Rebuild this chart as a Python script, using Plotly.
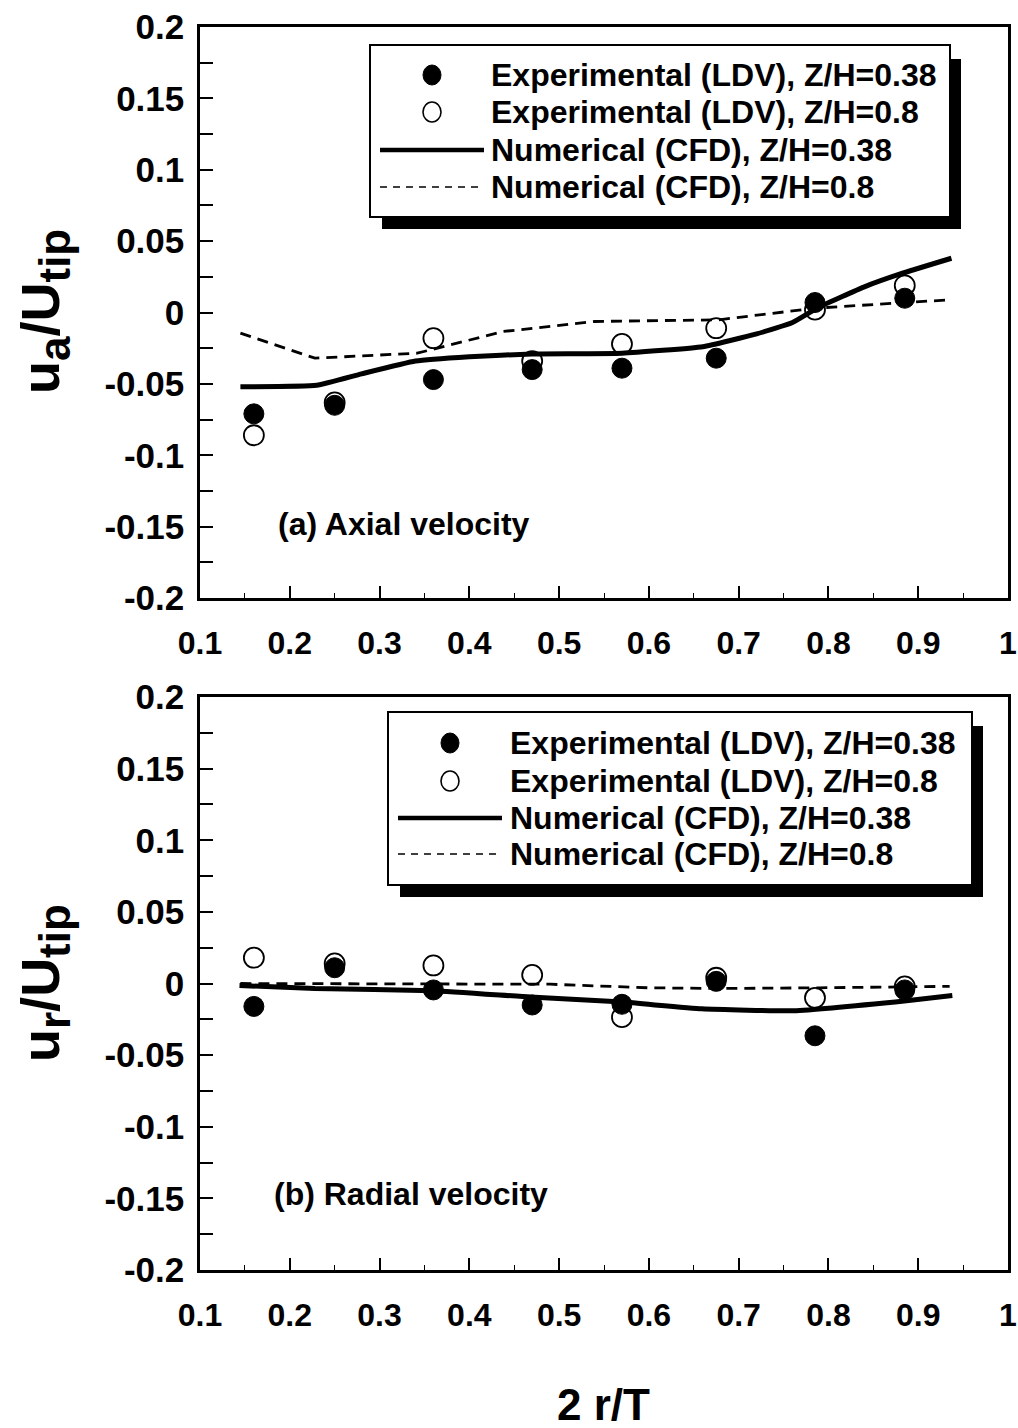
import plotly.graph_objects as go
from plotly.subplots import make_subplots

# ---------------- data ----------------
x_exp = [0.16, 0.25, 0.36, 0.47, 0.57, 0.675, 0.785, 0.885]

# (a) axial velocity
ua_exp_038 = [-0.071, -0.065, -0.047, -0.040, -0.039, -0.032, 0.007, 0.010]
ua_exp_08 = [-0.086, -0.063, -0.018, -0.034, -0.022, -0.011, 0.002, 0.019]
x_cfd_a038 = [0.145, 0.23, 0.28, 0.34, 0.40, 0.47, 0.57, 0.66, 0.72, 0.76, 0.79, 0.84, 0.88, 0.937]
ua_cfd_038 = [-0.052, -0.051, -0.043, -0.034, -0.031, -0.029, -0.0285, -0.024, -0.015, -0.007, 0.004, 0.018, 0.027, 0.038]
x_cfd_a08 = [0.145, 0.228, 0.342, 0.378, 0.438, 0.540, 0.678, 0.785, 0.935]
ua_cfd_08 = [-0.0145, -0.032, -0.0285, -0.0226, -0.0133, -0.0063, -0.0051, 0.003, 0.0089]

# (b) radial velocity
ur_exp_038 = [-0.016, 0.011, -0.0045, -0.015, -0.0145, 0.0015, -0.0365, -0.0045]
ur_exp_08 = [0.018, 0.014, 0.0126, 0.006, -0.0235, 0.004, -0.010, -0.002]
x_cfd_r038 = [0.144, 0.228, 0.36, 0.468, 0.571, 0.659, 0.761, 0.887, 0.938]
ur_cfd_038 = [-0.0014, -0.0035, -0.005, -0.0095, -0.013, -0.0177, -0.019, -0.012, -0.0084]
x_cfd_r08 = [0.145, 0.36, 0.49, 0.60, 0.68, 0.79, 0.935]
ur_cfd_08 = [0.0, 0.0, -0.0005, -0.003, -0.0035, -0.003, -0.002]

y_tickvals = [0.2, 0.15, 0.1, 0.05, 0, -0.05, -0.1, -0.15, -0.2]
y_ticktext = ["0.2", "0.15", "0.1", "0.05", "0", "-0.05", "-0.1", "-0.15", "-0.2"]
x_tickvals = [0.1, 0.2, 0.3, 0.4, 0.5, 0.6, 0.7, 0.8, 0.9, 1.0]
x_ticktext = ["0.1", "0.2", "0.3", "0.4", "0.5", "0.6", "0.7", "0.8", "0.9", "1"]

legend_labels = ["Experimental (LDV), Z/H=0.38", "Experimental (LDV), Z/H=0.8",
                 "Numerical (CFD), Z/H=0.38", "Numerical (CFD), Z/H=0.8"]

# ---------------- layout geometry ----------------
W, H = 1018, 1428
ML, MR = 200, 10
PW = W - ML - MR
FONT = "Liberation Sans, Arial, sans-serif"


def px(xp):
    return (xp - ML) / PW


def py(yp):
    return (H - yp) / H


fig = make_subplots(rows=2, cols=1, vertical_spacing=0.07)


def add_panel(row, xs, exp038, exp08, xc38, c38, xc08, c08):
    fig.add_trace(go.Scatter(x=xs, y=exp08, mode="markers",
                             marker=dict(symbol="circle", size=20, color="white",
                                         line=dict(color="black", width=1.8)),
                             showlegend=False), row=row, col=1)
    fig.add_trace(go.Scatter(x=xs, y=exp038, mode="markers",
                             marker=dict(symbol="circle", size=20, color="black",
                                         line=dict(color="black", width=1)),
                             showlegend=False), row=row, col=1)
    fig.add_trace(go.Scatter(x=xc08, y=c08, mode="lines",
                             line=dict(color="black", width=2.8, dash="11px,7px"),
                             showlegend=False), row=row, col=1)
    fig.add_trace(go.Scatter(x=xc38, y=c38, mode="lines",
                             line=dict(color="black", width=5, shape="spline", smoothing=0.4),
                             showlegend=False), row=row, col=1)


add_panel(1, x_exp, ua_exp_038, ua_exp_08, x_cfd_a038, ua_cfd_038, x_cfd_a08, ua_cfd_08)
add_panel(2, x_exp, ur_exp_038, ur_exp_08, x_cfd_r038, ur_cfd_038, x_cfd_r08, ur_cfd_08)

axis_common = dict(showline=True, linecolor="black", linewidth=2.5, mirror=True,
                   showgrid=False, zeroline=False, automargin=False)

for r, dom in ((1, [1 - 598 / H, 1 - 27 / H]), (2, [1 - 1270 / H, 1 - 697 / H])):
    fig.update_xaxes(row=r, col=1, range=[0.1, 1.0], tickvals=x_tickvals, ticktext=x_ticktext,
                     ticks="inside", ticklen=12, tickwidth=1.5, tickcolor="black",
                     minor=dict(tickvals=[0.15, 0.25, 0.35, 0.45, 0.55, 0.65, 0.75, 0.85, 0.95],
                                ticks="inside", ticklen=5, tickwidth=1.2, tickcolor="black"),
                     tickfont=dict(family=FONT, size=32, color="black", weight="bold"),
                     ticklabelstandoff=15, **axis_common)
    fig.update_yaxes(row=r, col=1, range=[-0.2, 0.2], domain=dom,
                     tickvals=y_tickvals, ticktext=y_ticktext,
                     ticks="inside", ticklen=13, tickwidth=1.5, tickcolor="black",
                     minor=dict(dtick=0.025, ticks="inside", ticklen=13, tickwidth=1.5,
                                tickcolor="black"),
                     tickfont=dict(family=FONT, size=35, color="black", weight="bold"),
                     ticklabelstandoff=6, **axis_common)

shapes = []
annotations = []


def add_legend(left, top, right, bottom, rows_y, marker_x, line_x0, line_x1, text_x):
    # drop shadow
    shapes.append(dict(type="rect", xref="paper", yref="paper",
                       x0=px(left + 12), x1=px(right + 11), y0=py(bottom + 12), y1=py(top + 14),
                       fillcolor="black", line=dict(width=0), layer="above"))
    shapes.append(dict(type="rect", xref="paper", yref="paper",
                       x0=px(left), x1=px(right), y0=py(bottom), y1=py(top),
                       fillcolor="white", line=dict(color="black", width=2), layer="above"))
    r = 9
    shapes.append(dict(type="circle", xref="paper", yref="paper",
                       x0=px(marker_x - r), x1=px(marker_x + r),
                       y0=py(rows_y[0] + r + 1), y1=py(rows_y[0] - r - 1),
                       fillcolor="black", line=dict(color="black", width=1), layer="above"))
    shapes.append(dict(type="circle", xref="paper", yref="paper",
                       x0=px(marker_x - r), x1=px(marker_x + r),
                       y0=py(rows_y[1] + r + 1), y1=py(rows_y[1] - r - 1),
                       fillcolor="white", line=dict(color="black", width=1.6), layer="above"))
    shapes.append(dict(type="line", xref="paper", yref="paper",
                       x0=px(line_x0), x1=px(line_x1), y0=py(rows_y[2]), y1=py(rows_y[2]),
                       line=dict(color="black", width=4.5), layer="above"))
    shapes.append(dict(type="line", xref="paper", yref="paper",
                       x0=px(line_x0), x1=px(line_x1), y0=py(rows_y[3]), y1=py(rows_y[3]),
                       line=dict(color="black", width=1.6, dash="7px,6px"), layer="above"))
    for lab, yy in zip(legend_labels, rows_y):
        annotations.append(dict(xref="paper", yref="paper", x=px(text_x), y=py(yy),
                                xanchor="left", yanchor="middle", showarrow=False, text=lab,
                                font=dict(family=FONT, size=32, color="black", weight="bold")))


add_legend(370, 45, 950, 217, [75, 112, 150, 187], 432, 380, 484, 489)
add_legend(388, 712, 972, 885, [743, 781, 818, 854], 450, 398, 502, 508)

# panel labels
annotations.append(dict(xref="paper", yref="paper", x=px(276), y=py(524), xanchor="left",
                        yanchor="middle", showarrow=False, text="(a) Axial velocity",
                        font=dict(family=FONT, size=32, color="black", weight="bold")))
annotations.append(dict(xref="paper", yref="paper", x=px(272), y=py(1194), xanchor="left",
                        yanchor="middle", showarrow=False, text="(b) Radial velocity",
                        font=dict(family=FONT, size=32, color="black", weight="bold")))

# axis titles
sub_style = "<sub><span style='font-size:44px'>%s</span></sub>"
annotations.append(dict(xref="paper", yref="paper", x=px(44), y=py(312), xanchor="center",
                        yanchor="middle", showarrow=False, textangle=-90,
                        text="u" + sub_style % "a" + "/U" + sub_style % "tip",
                        font=dict(family=FONT, size=54, color="black", weight="bold")))
annotations.append(dict(xref="paper", yref="paper", x=px(44), y=py(983), xanchor="center",
                        yanchor="middle", showarrow=False, textangle=-90,
                        text="u" + sub_style % "r" + "/U" + sub_style % "tip",
                        font=dict(family=FONT, size=54, color="black", weight="bold")))
annotations.append(dict(xref="paper", yref="paper", x=px(603), y=py(1404), xanchor="center",
                        yanchor="middle", showarrow=False, text="2 r/T",
                        font=dict(family=FONT, size=44, color="black", weight="bold")))

fig.update_layout(width=W, height=H, margin=dict(l=ML, r=MR, t=0, b=0),
                  paper_bgcolor="white", plot_bgcolor="white",
                  showlegend=False, shapes=shapes, annotations=annotations)

fig.write_html("out.html", config={"displayModeBar": False},
               post_script="document.body.style.margin='0px';")
